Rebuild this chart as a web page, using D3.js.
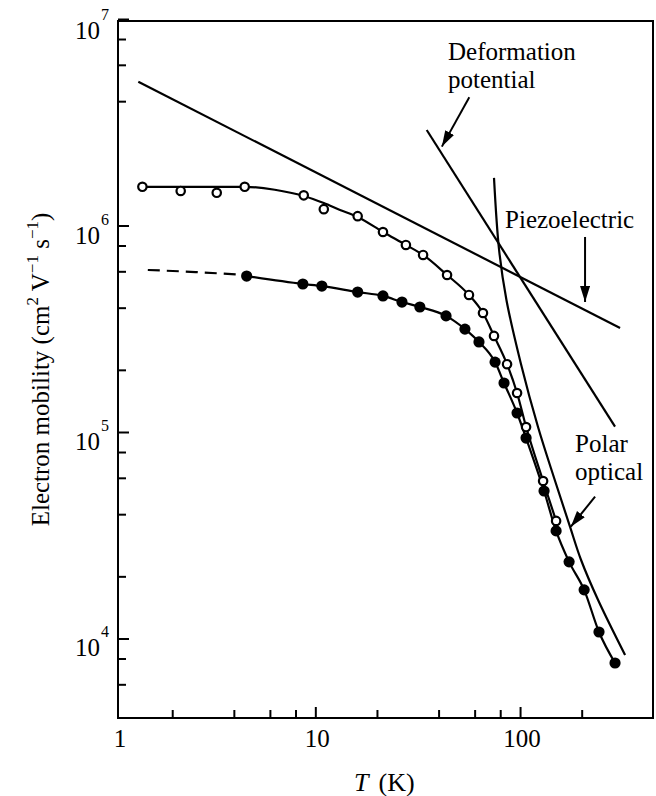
<!DOCTYPE html>
<html>
<head>
<meta charset="utf-8">
<script src="https://cdn.jsdelivr.net/npm/d3@7"></script>
<style>
  body { margin: 0; background: #fff; }
  svg { display: block; }
  text { font-family: "Liberation Serif", "Times New Roman", serif; fill: #000; }
</style>
</head>
<body>
<div id="chart"></div>
<script>
// values: T in K, mobility in cm^2 V^-1 s^-1

// open circles (upper sample)
const openT  = [1.43, 2.2, 3.3, 4.52, 8.78, 11.0, 16.1, 21.4, 27.7, 33.6, 44.0, 56.3, 65.9, 74.6, 86.4, 96.7, 107, 129.6, 150];
const openMu = [1.54e6, 1.47e6, 1.44e6, 1.54e6, 1.40e6, 1.20e6, 1.11e6, 9.3e5, 8.05e5, 7.2e5, 5.76e5, 4.61e5, 3.77e5, 2.92e5, 2.13e5, 1.545e5, 1.057e5, 5.79e4, 3.71e4];
// fitted curve through the open circles
const openFitT  = [1.43, 4.52, 6.34, 8.78, 11.0, 13.2, 16.1, 21.4, 27.7, 33.6, 44.0, 56.3, 65.9, 74.6, 86.4, 96.7, 107, 129.6, 150];
const openFitMu = [1.54e6, 1.54e6, 1.49e6, 1.39e6, 1.285e6, 1.19e6, 1.10e6, 9.3e5, 8.05e5, 7.2e5, 5.76e5, 4.61e5, 3.77e5, 2.92e5, 2.13e5, 1.545e5, 1.06e5, 5.79e4, 3.71e4];

// filled circles (lower sample)
const filledT  = [4.62, 8.69, 10.76, 16.1, 21.4, 26.5, 32.4, 43.5, 53.8, 63.0, 75.5, 83.5, 96.7, 107, 131, 150, 173.6, 205.6, 243, 291];
const filledMu = [5.69e5, 5.21e5, 5.09e5, 4.76e5, 4.56e5, 4.26e5, 4.03e5, 3.65e5, 3.15e5, 2.73e5, 2.18e5, 1.727e5, 1.236e5, 9.35e4, 5.18e4, 3.32e4, 2.35e4, 1.72e4, 1.075e4, 7.61e3];
// dashed extrapolation at low T
const dashT  = [1.52, 2.6, 4.62];
const dashMu = [6.09e5, 5.95e5, 5.75e5];

// theoretical limits
const piezoT  = [1.366, 308];
const piezoMu = [4.97e6, 3.19e5];
const deformT  = [35.0, 291];
const deformMu = [2.90e6, 1.061e5];
const polarT  = [74.6, 79.0, 85.8, 101.1, 122.4, 148.3, 175.5, 198.6, 240.5, 325.8];
const polarMu = [1.70e6, 7.61e5, 4.36e5, 2.13e5, 1.057e5, 5.79e4, 3.47e4, 2.40e4, 1.536e4, 8.32e3];

// axis ticks
const xMajor = [10, 100];
const xMinor = [2, 4, 6, 8, 20, 40, 60, 80, 200];
const xLabels = [1, 10, 100];
const yMajor = [1e4, 1e5, 1e6, 1e7];
const yMinor = [6e3, 8e3, 2e4, 4e4, 6e4, 8e4, 2e5, 4e5, 6e5, 8e5, 4e6, 6e6, 8e6];

// annotations: [T, mu, text]
const labels = [
  [44.5, 6.33e6, "Deformation"],
  [44.5, 4.63e6, "potential"],
  [84.5, 9.72e5, "Piezoelectric"],
  [185.7, 8.0e4, "Polar"],
  [185.7, 5.86e4, "optical"]
];
// arrows: [T0, mu0, T1, mu1]
const arrows = [
  [56.5, 4.18e6, 41.5, 2.41e6],
  [207.7, 8.8e5, 207.7, 4.26e5],
  [232.5, 4.86e4, 177, 3.48e4]
];

const W = 656, H = 796;
const margin = { top: 21, right: 3, bottom: 78, left: 118 };

const x = d3.scaleLog().domain([1.087, 446]).range([margin.left, W - margin.right]);
const y = d3.scaleLog().domain([4121, 9.78e6]).range([H - margin.bottom, margin.top]);

const svg = d3.select("#chart").append("svg")
  .attr("width", W)
  .attr("height", H);

svg.append("rect").attr("width", W).attr("height", H).attr("fill", "#fff");

const zip = (a, b) => a.map((v, i) => [v, b[i]]);
const smooth = d3.line().x(d => x(d[0])).y(d => y(d[1])).curve(d3.curveMonotoneX);
const spline = d3.line().x(d => x(d[0])).y(d => y(d[1])).curve(d3.curveCatmullRom.alpha(0.5));
const straight = d3.line().x(d => x(d[0])).y(d => y(d[1]));

// ticks, pointing into the plot
const plotH = y.range()[0] - y.range()[1];
svg.append("g")
  .attr("transform", `translate(${margin.left},0)`)
  .call(d3.axisLeft(y).tickValues(yMajor).tickSize(-11).tickFormat(""));
svg.append("g")
  .attr("transform", `translate(${margin.left},0)`)
  .call(d3.axisLeft(y).tickValues(yMinor).tickSize(-8).tickFormat(""));
svg.append("g")
  .attr("transform", `translate(0,${y.range()[0]})`)
  .call(d3.axisBottom(x).tickValues(xMajor).tickSize(-11).tickFormat(""));
svg.append("g")
  .attr("transform", `translate(0,${y.range()[0]})`)
  .call(d3.axisBottom(x).tickValues(xMinor).tickSize(-8).tickFormat(""));
svg.selectAll(".domain").remove();
svg.selectAll(".tick line").attr("stroke", "#000").attr("stroke-width", 2);

// frame
svg.append("rect")
  .attr("x", x.range()[0])
  .attr("y", y.range()[1])
  .attr("width", x.range()[1] - x.range()[0])
  .attr("height", plotH)
  .attr("fill", "none")
  .attr("stroke", "#000")
  .attr("stroke-width", 2);

// y tick labels: 10^n
const yl = svg.append("g").selectAll("g").data(yMajor).join("g");
yl.append("text")
  .attr("x", margin.left - 18)
  .attr("y", d => Math.max(y(d), y.range()[1]) + 18)
  .attr("text-anchor", "end")
  .attr("font-size", 25)
  .text("10");
yl.append("text")
  .attr("x", margin.left - 17)
  .attr("y", d => Math.max(y(d), y.range()[1]) - 1)
  .attr("font-size", 16)
  .text(d => Math.round(Math.log10(d)));

// x tick labels
svg.append("g").selectAll("text").data(xLabels).join("text")
  .attr("x", d => x(Math.max(d, x.domain()[0])) + 2)
  .attr("y", y.range()[0] + 29)
  .attr("text-anchor", "middle")
  .attr("font-size", 25)
  .text(d => d);

// axis titles
const xt = svg.append("text")
  .attr("x", 354)
  .attr("y", 791)
  .attr("font-size", 26);
xt.append("tspan").attr("font-style", "italic").text("T");
xt.append("tspan").attr("dx", 10).text("(K)");

const yt = svg.append("text")
  .attr("transform", `translate(49,${(y.range()[0] + y.range()[1]) / 2}) rotate(-90)`)
  .attr("text-anchor", "middle")
  .attr("font-size", 25);
yt.append("tspan").text("Electron mobility (cm");
yt.append("tspan").attr("font-size", 17).attr("dy", -11).text("2");
yt.append("tspan").attr("dy", 11).text(" V");
yt.append("tspan").attr("font-size", 17).attr("dy", -11).text("\u22121");
yt.append("tspan").attr("dy", 11).text(" s");
yt.append("tspan").attr("font-size", 17).attr("dy", -11).text("\u22121");
yt.append("tspan").attr("dy", 11).text(")");

// theoretical lines
const lw = 2.2;
svg.append("path").attr("d", straight(zip(piezoT, piezoMu)))
  .attr("fill", "none").attr("stroke", "#000").attr("stroke-width", lw);
svg.append("path").attr("d", straight(zip(deformT, deformMu)))
  .attr("fill", "none").attr("stroke", "#000").attr("stroke-width", lw);
svg.append("path").attr("d", spline(zip(polarT, polarMu)))
  .attr("fill", "none").attr("stroke", "#000").attr("stroke-width", lw);

// fitted curves
svg.append("path").attr("d", smooth(zip(openFitT, openFitMu)))
  .attr("fill", "none").attr("stroke", "#000").attr("stroke-width", lw);
svg.append("path").attr("d", smooth(zip(filledT, filledMu)))
  .attr("fill", "none").attr("stroke", "#000").attr("stroke-width", lw);
svg.append("path").attr("d", smooth(zip(dashT, dashMu)))
  .attr("fill", "none").attr("stroke", "#000").attr("stroke-width", lw)
  .attr("stroke-dasharray", "12,7");

// data points
svg.append("g").selectAll("circle").data(zip(openT, openMu)).join("circle")
  .attr("cx", d => x(d[0])).attr("cy", d => y(d[1])).attr("r", 4.2)
  .attr("fill", "#fff").attr("stroke", "#000").attr("stroke-width", 2.2);
svg.append("g").selectAll("circle").data(zip(filledT, filledMu)).join("circle")
  .attr("cx", d => x(d[0])).attr("cy", d => y(d[1])).attr("r", 5.6)
  .attr("fill", "#000");

// arrows
svg.append("defs").append("marker")
  .attr("id", "head")
  .attr("markerUnits", "userSpaceOnUse")
  .attr("markerWidth", 18).attr("markerHeight", 12)
  .attr("refX", 16).attr("refY", 5)
  .attr("orient", "auto")
  .append("path").attr("d", "M0,0L16,5L0,10Z").attr("fill", "#000");

svg.append("g").selectAll("line").data(arrows).join("line")
  .attr("x1", d => x(d[0])).attr("y1", d => y(d[1]))
  .attr("x2", d => x(d[2])).attr("y2", d => y(d[3]))
  .attr("stroke", "#000").attr("stroke-width", 2)
  .attr("marker-end", "url(#head)");

// annotation text
svg.append("g").selectAll("text").data(labels).join("text")
  .attr("x", d => x(d[0]))
  .attr("y", d => y(d[1]))
  .attr("font-size", 25)
  .text(d => d[2]);
</script>
</body>
</html>
